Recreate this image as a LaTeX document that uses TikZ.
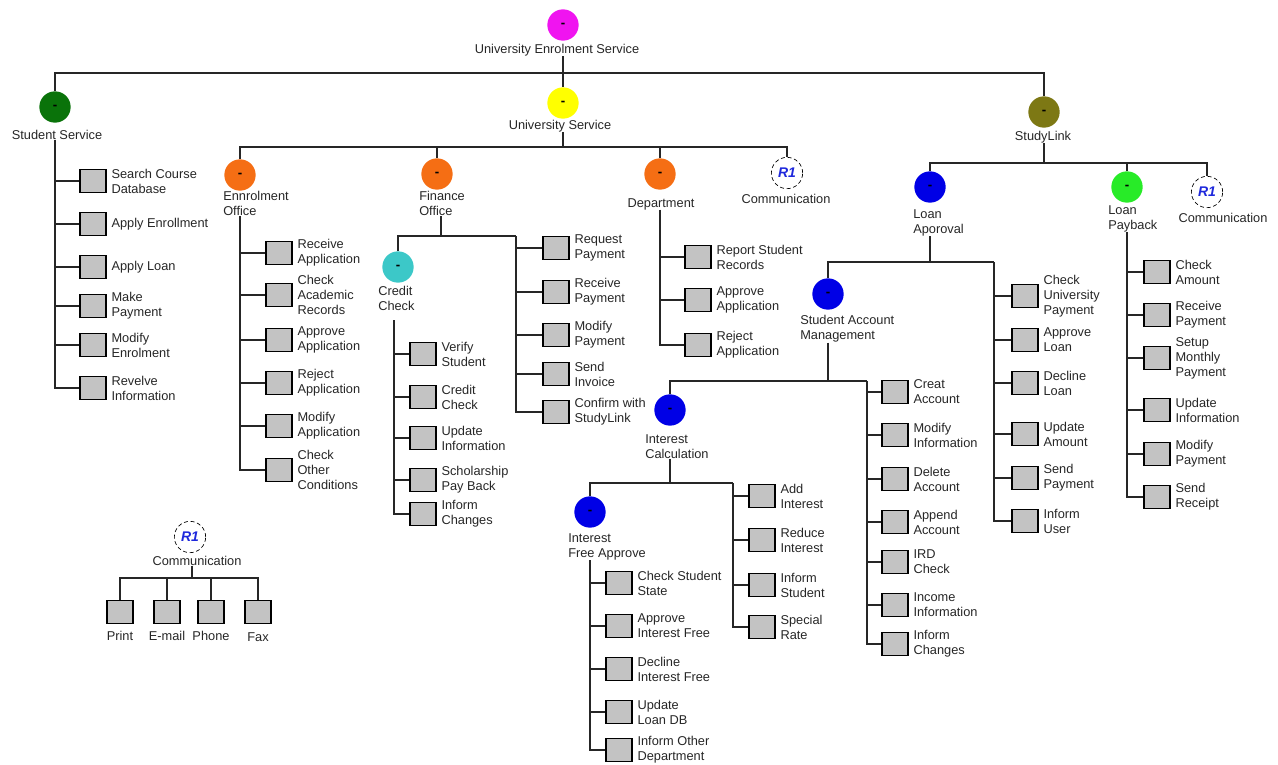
\documentclass[tikz,border=0pt]{standalone}
\usepackage{fontspec}
\setmainfont{Liberation Sans}
\definecolor{cmag}{RGB}{240,20,240}
\definecolor{cdkgreen}{RGB}{10,115,10}
\definecolor{cyel}{RGB}{255,255,0}
\definecolor{colive}{RGB}{125,120,20}
\definecolor{corange}{RGB}{245,110,20}
\definecolor{ccyan}{RGB}{60,200,200}
\definecolor{cblue}{RGB}{0,0,230}
\definecolor{clgreen}{RGB}{40,235,40}
\definecolor{boxgray}{RGB}{195,195,195}
\definecolor{rblue}{RGB}{30,40,220}
\newcommand\leafnode[4]{\node[leafbox] (#1) at (#2,#3) {}; \node[lbl,anchor=west] at ([xshift=3.5pt]#1.east) {#4};}
\begin{document}
\begin{tikzpicture}[x=0.75pt,y=-0.75pt,
  edge/.style={line width=0.85pt,black!85},
  hub/.style={circle,fill=#1,minimum size=23.5pt,inner sep=0pt,font=\bfseries\fontsize{10}{10}\selectfont},
  rone/.style={circle,draw,densely dashed,line width=0.5pt,fill=white,minimum size=23.5pt,inner sep=0pt,text=rblue,font=\bfseries\itshape\fontsize{10.5}{11}\selectfont},
  leafbox/.style={draw,line width=0.9pt,fill=boxgray,minimum width=19.5pt,minimum height=17pt,inner sep=0pt},
  lbl/.style={font=\fontsize{9.6}{11.3}\selectfont,align=left,inner sep=0pt,text=black!85},
]
\useasboundingbox (0,0) rectangle (1278,764);

% ---------- top level ----------
\node[hub=cmag] (root) at (563,25) {-};
\node[lbl,anchor=north] (rootl) at (557,44) {University Enrolment Service};
\node[hub=cdkgreen] (ss) at (55,107) {-};
\node[lbl,anchor=north] (ssl) at (57,130) {Student Service};
\node[hub=cyel] (us) at (563,103) {-};
\node[lbl,anchor=north] (usl) at (560,120) {University Service};
\node[hub=colive] (sl) at (1044,112) {-};
\node[lbl,anchor=north] (sll) at (1043,131) {StudyLink};
\coordinate (b1) at (563,73);
\draw[edge] (rootl.south -| root) -- (us.north);
\draw[edge] (ss.north) |- (b1) -| (sl.north);

% ---------- Student Service ----------
\leafnode{s1}{93}{181}{Search Course\\Database}
\leafnode{s2}{93}{224}{Apply Enrollment}
\leafnode{s3}{93}{267}{Apply Loan}
\leafnode{s4}{93}{306}{Make\\Payment}
\leafnode{s5}{93}{345}{Modify\\Enrolment}
\leafnode{s6}{93}{388}{Revelve\\Information}
\foreach \n in {s1,s2,s3,s4,s5,s6} \draw[edge] (ssl.south -| ss) |- (\n.west);

% ---------- University Service ----------
\node[hub=corange] (eo) at (240,175) {-};
\node[lbl,anchor=north west] (eol) at (223,191) {Ennrolment\\Office};
\node[hub=corange] (fo) at (437,174) {-};
\node[lbl,anchor=north west] (fol) at (419,191) {Finance\\Office};
\node[hub=corange] (dp) at (660,174) {-};
\node[lbl,anchor=north] (dpl) at (661,198) {Department};
\node[rone] (r1a) at (787,173) {R1};
\node[lbl,anchor=north] (r1al) at (786,194) {Communication};
\coordinate (b2) at (563,147);
\draw[edge] (usl.south -| us) -- (b2);
\draw[edge] (eo.north) |- (b2) -| (r1a.north);
\draw[edge] (fo.north) -- (fo.north |- b2);
\draw[edge] (dp.north) -- (dp.north |- b2);

% Enrolment Office
\leafnode{e1}{279}{253}{Receive\\Application}
\leafnode{e2}{279}{295}{Check\\Academic\\Records}
\leafnode{e3}{279}{340}{Approve\\Application}
\leafnode{e4}{279}{383}{Reject\\Application}
\leafnode{e5}{279}{426}{Modify\\Application}
\leafnode{e6}{279}{470}{Check\\Other\\Conditions}
\foreach \n in {e1,e2,e3,e4,e5,e6} \draw[edge] (eol.south -| eo) |- (\n.west);

% Finance Office
\coordinate (fb) at (441,236);
\coordinate (fsp) at (516,236);
\draw[edge] (fol.south -| fb) -- (fb);
\node[hub=ccyan] (cc) at (398,267) {-};
\node[lbl,anchor=north west] (ccl) at (378,286) {Credit\\Check};
\draw[edge] (cc.north) |- (fsp);
\leafnode{f1}{556}{248}{Request\\Payment}
\leafnode{f2}{556}{292}{Receive\\Payment}
\leafnode{f3}{556}{335}{Modify\\Payment}
\leafnode{f4}{556}{374}{Send\\Invoice}
\leafnode{f5}{556}{412}{Confirm with\\StudyLink}
\foreach \n in {f1,f2,f3,f4,f5} \draw[edge] (fsp) |- (\n.west);

% Credit Check
\coordinate (ccs) at (394,320);
\leafnode{c1}{423}{354}{Verify\\Student}
\leafnode{c2}{423}{397}{Credit\\Check}
\leafnode{c3}{423}{438}{Update\\Information}
\leafnode{c4}{423}{480}{Scholarship\\Pay Back}
\leafnode{c5}{423}{514}{Inform\\Changes}
\foreach \n in {c1,c2,c3,c4,c5} \draw[edge] (ccs) |- (\n.west);

% Department
\leafnode{d1}{698}{257}{Report Student\\Records}
\leafnode{d2}{698}{300}{Approve\\Application}
\leafnode{d3}{698}{345}{Reject\\Application}
\foreach \n in {d1,d2,d3} \draw[edge] (dpl.south -| dp) |- (\n.west);

% ---------- StudyLink ----------
\node[hub=cblue] (la) at (930,187) {-};
\node[lbl,anchor=north west] (lal) at (913,209) {Loan\\Aporoval};
\node[hub=clgreen] (lp) at (1127,187) {-};
\node[lbl,anchor=north west] (lpl) at (1108,205) {Loan\\Payback};
\node[rone] (r1b) at (1207,192) {R1};
\node[lbl,anchor=north] (r1bl) at (1223,213) {Communication};
\coordinate (b3) at (1044,163);
\draw[edge] (sll.south -| sl) -- (b3);
\draw[edge] (la.north) |- (b3) -| (r1b.north);
\draw[edge] (lp.north) -- (lp.north |- b3);

% Loan Aporoval
\coordinate (b4) at (930,262);
\coordinate (lsp) at (994,262);
\draw[edge] (lal.south -| la) -- (b4);
\node[hub=cblue] (sam) at (828,294) {-};
\node[lbl,anchor=north west] (saml) at (800,315) {Student Account\\Management};
\draw[edge] (sam.north) |- (lsp);
\leafnode{a1}{1025}{296}{Check\\University\\Payment}
\leafnode{a2}{1025}{340}{Approve\\Loan}
\leafnode{a3}{1025}{383}{Decline\\Loan}
\leafnode{a4}{1025}{434}{Update\\Amount}
\leafnode{a5}{1025}{478}{Send\\Payment}
\leafnode{a6}{1025}{521}{Inform\\User}
\foreach \n in {a1,a2,a3,a4,a5,a6} \draw[edge] (lsp) |- (\n.west);

% Student Account Management
\coordinate (ssp) at (867,381);
\draw[edge] (saml.south -| sam) -- (sam |- ssp);
\node[hub=cblue] (ic) at (670,410) {-};
\node[lbl,anchor=north west] (icl) at (645,434) {Interest\\Calculation};
\draw[edge] (ic.north) |- (ssp);
\leafnode{m1}{895}{392}{Creat\\Account}
\leafnode{m2}{895}{435}{Modify\\Information}
\leafnode{m3}{895}{479}{Delete\\Account}
\leafnode{m4}{895}{522}{Append\\Account}
\leafnode{m5}{895}{562}{IRD\\Check}
\leafnode{m6}{895}{605}{Income\\Information}
\leafnode{m7}{895}{644}{Inform\\Changes}
\foreach \n in {m1,m2,m3,m4,m5,m6,m7} \draw[edge] (ssp) |- (\n.west);

% Interest Calculation
\coordinate (isp) at (733,483);
\draw[edge] (icl.south -| ic) -- (ic |- isp);
\node[hub=cblue] (ifa) at (590,512) {-};
\node[lbl,anchor=north west] (ifal) at (568,533) {Interest\\Free Approve};
\draw[edge] (ifa.north) |- (isp);
\leafnode{i1}{762}{496}{Add\\Interest}
\leafnode{i2}{762}{540}{Reduce\\Interest}
\leafnode{i3}{762}{585}{Inform\\Student}
\leafnode{i4}{762}{627}{Special\\Rate}
\foreach \n in {i1,i2,i3,i4} \draw[edge] (isp) |- (\n.west);

% Interest Free Approve
\leafnode{q1}{619}{583}{Check Student\\State}
\leafnode{q2}{619}{626}{Approve\\Interest Free}
\leafnode{q3}{619}{669}{Decline\\Interest Free}
\leafnode{q4}{619}{712}{Update\\Loan DB}
\leafnode{q5}{619}{750}{Inform Other\\Department}
\foreach \n in {q1,q2,q3,q4,q5} \draw[edge] (ifal.south -| ifa) |- (\n.west);

% Loan Payback
\leafnode{p1}{1157}{272}{Check\\Amount}
\leafnode{p2}{1157}{315}{Receive\\Payment}
\leafnode{p3}{1157}{358}{Setup\\Monthly\\Payment}
\leafnode{p4}{1157}{410}{Update\\Information}
\leafnode{p5}{1157}{454}{Modify\\Payment}
\leafnode{p6}{1157}{497}{Send\\Receipt}
\foreach \n in {p1,p2,p3,p4,p5,p6} \draw[edge] (lpl.south -| lp) |- (\n.west);

% ---------- Communication legend ----------
\node[rone] (r1c) at (190,537) {R1};
\node[lbl,anchor=north] (r1cl) at (197,556) {Communication};
\coordinate (b5) at (192,578);
\draw[edge] (r1cl.south -| b5) -- (b5);
\node[leafbox] (x1) at (120,612) {};
\node[leafbox] (x2) at (167,612) {};
\node[leafbox] (x3) at (211,612) {};
\node[leafbox] (x4) at (258,612) {};
\node[lbl,anchor=north] at ([yshift=-5pt]x1.south) {Print};
\node[lbl,anchor=north] at ([yshift=-5pt]x2.south) {E-mail};
\node[lbl,anchor=north] at ([yshift=-5pt]x3.south) {Phone};
\node[lbl,anchor=north] at ([yshift=-6pt]x4.south) {Fax};
\draw[edge] (x1.north) |- (b5) -| (x4.north);
\draw[edge] (x2.north) -- (x2.north |- b5);
\draw[edge] (x3.north) -- (x3.north |- b5);
\end{tikzpicture}
\end{document}
